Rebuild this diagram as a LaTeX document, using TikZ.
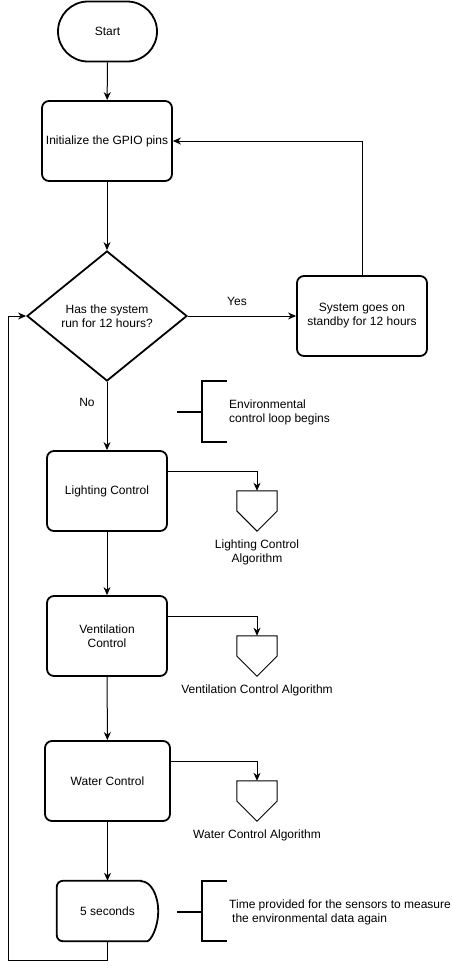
\documentclass[tikz,border=0pt]{standalone}
\usepackage{fontspec}
\setmainfont{Liberation Sans}
\usetikzlibrary{arrows.meta,shapes.geometric}
\begin{document}
\begin{tikzpicture}[x=1pt,y=-1pt,
  font=\fontsize{12}{14}\selectfont,
  thick box/.style={draw, line width=1.8pt, rounded corners=7pt, align=center, inner sep=3pt},
  term/.style={draw, line width=1.8pt, rounded corners=30pt, minimum width=99pt, minimum height=60pt, align=center},
  proc/.style={thick box, minimum height=80pt},
  dec/.style={draw, diamond, line width=1.8pt, minimum width=160pt, minimum height=130pt, inner sep=0pt, align=center},
  ghost/.style={draw=none, inner sep=0pt},
  arr/.style={draw, line width=1pt, -{Stealth[length=8pt,width=7pt,inset=2.5pt]}},
  link/.style={draw, line width=1pt},
  offpage/.style={draw, line width=1pt},
  ann/.style={draw, line width=1.8pt},
  lbl/.style={inner sep=0pt, align=center},
  note/.style={inner sep=0pt, align=left, anchor=west}
]
\useasboundingbox (0,0) rectangle (452,970);

% main nodes
\node[term] (start) at (107.5,31.5) {Start};
\node[proc, minimum width=130pt] (init) at (107,141) {Initialize the GPIO pins};
\node[dec] (dec) at (107,316) {Has the system\\run for 12 hours?};
\node[proc, minimum width=130pt] (standby) at (362,316) {System goes on\\standby for 12 hours};
\node[proc, minimum width=120pt] (light) at (107,491) {Lighting Control};
\node[proc, minimum width=120pt] (vent) at (107,636) {Ventilation\\Control};
\node[proc, minimum width=125pt] (water) at (107.5,781) {Water Control};
\node[ghost, minimum width=101pt, minimum height=60pt] (delay) at (107.5,911) {5 seconds};
\draw[line width=1.8pt, rounded corners=6pt]
  ([xshift=-17pt]delay.north east) -- (delay.north west) -- (delay.south west) -- ([xshift=-17pt]delay.south east)
  [sharp corners] arc[start angle=-90, end angle=90, x radius=17pt, y radius=30pt] -- cycle;

% off-page connectors
\foreach \n/\y in {op1/511, op2/656, op3/801}{
  \node[ghost, minimum width=40pt, minimum height=40pt] (\n) at (257,\y) {};
  \draw[offpage] (\n.north west) -- (\n.north east) -- (\n.east) -- (\n.south) -- (\n.west) -- cycle;
}
\node[lbl] (l1) at (257,552) {Lighting Control\\Algorithm};
\node[lbl] (l2) at (257,690) {Ventilation Control Algorithm};
\node[lbl] (l3) at (257,835) {Water Control Algorithm};

% labels
\node[lbl] (yes) at (237,301) {Yes};
\node[lbl] (no) at (87,402) {No};

% connectors
\draw[arr] (start) -- (init);
\draw[arr] (init) -- (dec.north);
\draw[arr] (dec.east) -- (standby.west);
\draw[arr] (standby.north) |- (init.east);
\draw[arr] (dec.south) -- (light.north);
\draw[arr] (light) -- (vent);
\draw[arr] (vent) -- (water);
\draw[arr] (water) -- (delay.north);
\draw[arr] ([yshift=20pt]light.east) -| (op1.north);
\draw[arr] ([yshift=20pt]vent.east) -| (op2.north);
\draw[arr] ([yshift=20pt]water.east) -| (op3.north);
\coordinate (lp) at (8,960);
\draw[arr] (delay.south) |- (lp) |- (dec.west);

% annotations
\coordinate (a1) at (202,412);
\draw[ann] ([xshift=-25pt]a1) -- (a1);
\draw[ann] (227,381) -- (202,381) -- (202,442) -- (227,442);
\node[note] (t1) at (229,412) {Environmental\\control loop begins};
\coordinate (a2) at (202,912);
\draw[ann] ([xshift=-25pt]a2) -- (a2);
\draw[ann] (227,881) -- (202,881) -- (202,941) -- (227,941);
\node[note] (t2) at (229,912) {Time provided for the sensors to measure\\\hspace*{3pt}the environmental data again};
\end{tikzpicture}
\end{document}
